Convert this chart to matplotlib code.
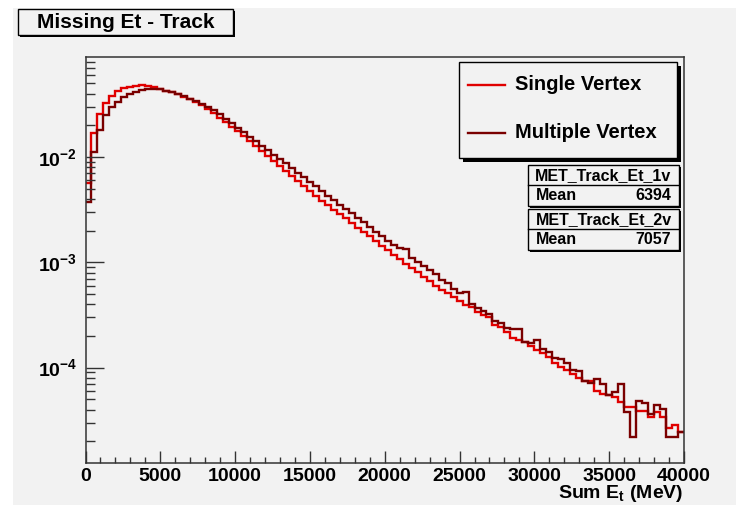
import numpy as np
import matplotlib.pyplot as plt
from matplotlib.patches import Rectangle
from matplotlib.lines import Line2D
from matplotlib.transforms import Affine2D
from matplotlib.ticker import LogLocator, MultipleLocator, FuncFormatter, NullFormatter

plt.rcParams['font.family'] = ['Liberation Sans', 'DejaVu Sans']
plt.rcParams['font.weight'] = 'bold'
plt.rcParams['mathtext.fontset'] = 'custom'
plt.rcParams['mathtext.rm'] = 'Liberation Sans:bold'
plt.rcParams['mathtext.bf'] = 'Liberation Sans:bold'
plt.rcParams['mathtext.it'] = 'Liberation Sans:bold'

# 100 bins of 400 MeV, normalised histogram contents
edges = np.linspace(0, 40000, 101)

single = [5.70e-3, 1.680e-2, 2.561e-2, 3.279e-2, 3.796e-2, 4.236e-2, 4.491e-2, 4.651e-2, 4.754e-2, 4.796e-2,
          4.723e-2, 4.590e-2, 4.423e-2, 4.262e-2, 4.116e-2, 3.940e-2, 3.738e-2, 3.532e-2, 3.329e-2, 3.118e-2,
          2.887e-2, 2.618e-2, 2.372e-2, 2.149e-2, 1.949e-2, 1.758e-2, 1.583e-2, 1.419e-2, 1.272e-2, 1.140e-2,
          1.022e-2, 9.16e-3, 8.21e-3, 7.36e-3, 6.60e-3, 5.92e-3, 5.30e-3, 4.75e-3, 4.26e-3, 3.86e-3,
          3.50e-3, 3.17e-3, 2.87e-3, 2.61e-3, 2.36e-3, 2.14e-3, 1.94e-3, 1.76e-3, 1.59e-3, 1.44e-3,
          1.31e-3, 1.186e-3, 1.075e-3, 9.74e-4, 8.83e-4, 8.04e-4, 7.25e-4, 6.64e-4, 6.02e-4, 5.46e-4,
          5.08e-4, 4.65e-4, 4.29e-4, 3.93e-4, 3.79e-4, 3.40e-4, 3.16e-4, 3.00e-4, 2.54e-4, 2.41e-4,
          2.19e-4, 1.90e-4, 1.83e-4, 1.76e-4, 1.60e-4, 1.47e-4, 1.37e-4, 1.27e-4, 1.11e-4, 1.01e-4,
          9.49e-5, 8.69e-5, 7.91e-5, 7.46e-5, 7.46e-5, 5.99e-5, 5.61e-5, 5.49e-5, 5.22e-5, 4.71e-5,
          4.20e-5, 4.20e-5, 3.87e-5, 3.87e-5, 3.42e-5, 3.81e-5, 3.42e-5, 2.65e-5, 2.85e-5, 2.43e-5]

multi = [3.76e-3, 1.123e-2, 1.805e-2, 2.506e-2, 3.004e-2, 3.351e-2, 3.690e-2, 3.940e-2, 4.142e-2, 4.298e-2,
         4.393e-2, 4.423e-2, 4.393e-2, 4.280e-2, 4.142e-2, 3.966e-2, 3.796e-2, 3.593e-2, 3.402e-2, 3.221e-2,
         3.017e-2, 2.795e-2, 2.561e-2, 2.321e-2, 2.103e-2, 1.906e-2, 1.727e-2, 1.566e-2, 1.419e-2, 1.286e-2,
         1.166e-2, 1.056e-2, 9.57e-3, 8.68e-3, 7.86e-3, 7.12e-3, 6.46e-3, 5.79e-3, 5.25e-3, 4.75e-3,
         4.31e-3, 3.90e-3, 3.54e-3, 3.21e-3, 2.91e-3, 2.63e-3, 2.39e-3, 2.16e-3, 1.96e-3, 1.78e-3,
         1.59e-3, 1.46e-3, 1.37e-3, 1.35e-3, 1.10e-3, 1.018e-3, 9.22e-4, 8.54e-4, 7.83e-4, 6.79e-4,
         6.36e-4, 5.58e-4, 5.08e-4, 5.26e-4, 3.99e-4, 3.66e-4, 3.47e-4, 3.23e-4, 2.77e-4, 2.67e-4,
         2.36e-4, 2.31e-4, 2.31e-4, 1.76e-4, 1.70e-4, 1.83e-4, 1.49e-4, 1.42e-4, 1.23e-4, 1.20e-4,
         1.10e-4, 9.49e-5, 9.34e-5, 7.46e-5, 7.09e-5, 7.74e-5, 6.94e-5, 5.49e-5, 5.90e-5, 6.94e-5,
         3.81e-5, 2.21e-5, 4.85e-5, 4.64e-5, 3.60e-5, 4.38e-5, 4.02e-5, 2.21e-5, 2.21e-5, 2.43e-5]

labels = ['Single Vertex', 'Multiple Vertex']
hist_names = ['MET_Track_Et_1v', 'MET_Track_Et_2v']
means = [6394, 7057]

GREY = '#f2f2f2'
RED = '#e00000'
DARK = '#7a0000'

W, H = 736, 509
fig = plt.figure(figsize=(W / 100, H / 100), dpi=100, facecolor='white')
# pixel coordinates, origin at the top-left corner
px = Affine2D().scale(1 / W, -1 / H).translate(0, 1) + fig.transFigure

fig.add_artist(Rectangle((13, 8), W - 13, H - 12, transform=px, facecolor=GREY,
                         edgecolor='none', zorder=0))

ax = fig.add_axes([85.5 / W, 1 - 462.5 / H, (684 - 85.5) / W, (462.5 - 57) / H])
ax.set_facecolor(GREY)

ax.stairs(single, edges, baseline=None, color=RED, lw=1.7)
ax.stairs(multi, edges, baseline=None, color=DARK, lw=1.7)

ax.set_yscale('log')
ax.set_xlim(0, 40000)
ax.set_ylim(1.256e-5, 0.0891)

for s in ax.spines.values():
    s.set_color('#333333')
    s.set_linewidth(1.1)

ax.xaxis.set_major_locator(MultipleLocator(5000))
ax.xaxis.set_minor_locator(MultipleLocator(1000))
ax.yaxis.set_major_locator(LogLocator(base=10))
ax.yaxis.set_minor_locator(LogLocator(base=10, subs=np.arange(2, 10)))
ax.yaxis.set_minor_formatter(NullFormatter())
ax.yaxis.set_major_formatter(FuncFormatter(lambda v, p: r'$\mathbf{10^{%d}}$' % round(np.log10(v))))

ax.tick_params(which='both', direction='in', top=False, right=False, color='#333333', width=1)
ax.tick_params(axis='x', which='major', length=8.6, labelsize=14, pad=4)
ax.tick_params(axis='x', which='minor', length=4.3)
ax.tick_params(axis='y', which='major', length=13, labelsize=14, pad=6)
ax.tick_params(axis='y', which='minor', length=6.5)
for lab in ax.get_xticklabels():
    lab.set_fontweight('bold')

fig.text(683, 494, r'Sum E$_\mathregular{t}$ (MeV)', transform=px, ha='right', va='center',
         fontsize=14, fontweight='bold')

# title box
fig.add_artist(Rectangle((20, 11), 215, 26, transform=px, facecolor='black', edgecolor='none'))
fig.add_artist(Rectangle((18, 9), 215, 26, transform=px, facecolor=GREY, edgecolor='black', lw=1))
fig.text(125.5, 22, 'Missing Et - Track', transform=px, ha='center', va='center',
         fontsize=15, fontweight='bold')

# legend box
fig.add_artist(Rectangle((463, 66), 218, 96, transform=px, facecolor='black', edgecolor='none'))
fig.add_artist(Rectangle((459, 62), 218, 96, transform=px, facecolor=GREY, edgecolor='black', lw=1))
for lab, col, y in zip(labels, [RED, DARK], [85, 133]):
    fig.add_artist(Line2D([468, 505], [y, y], transform=px, color=col, lw=1.7))
    fig.text(515, y, lab, transform=px, ha='left', va='center', fontsize=14.5, fontweight='bold')

# stats boxes
for name, mean, top in zip(hist_names, means, [165, 209]):
    fig.add_artist(Rectangle((530, top + 2), 151, 41, transform=px, facecolor='black', edgecolor='none'))
    fig.add_artist(Rectangle((528, top), 151, 41, transform=px, facecolor=GREY, edgecolor='black', lw=1))
    fig.add_artist(Line2D([528, 679], [top + 20.5, top + 20.5], transform=px, color='black', lw=1))
    fig.text(603.5, top + 10.5, name, transform=px, ha='center', va='center', fontsize=11.5, fontweight='bold')
    fig.text(536, top + 31, 'Mean', transform=px, ha='left', va='center', fontsize=11.5, fontweight='bold')
    fig.text(671, top + 31, str(mean), transform=px, ha='right', va='center', fontsize=11.5, fontweight='bold')

fig.savefig('out.png', dpi=100, facecolor='white')
